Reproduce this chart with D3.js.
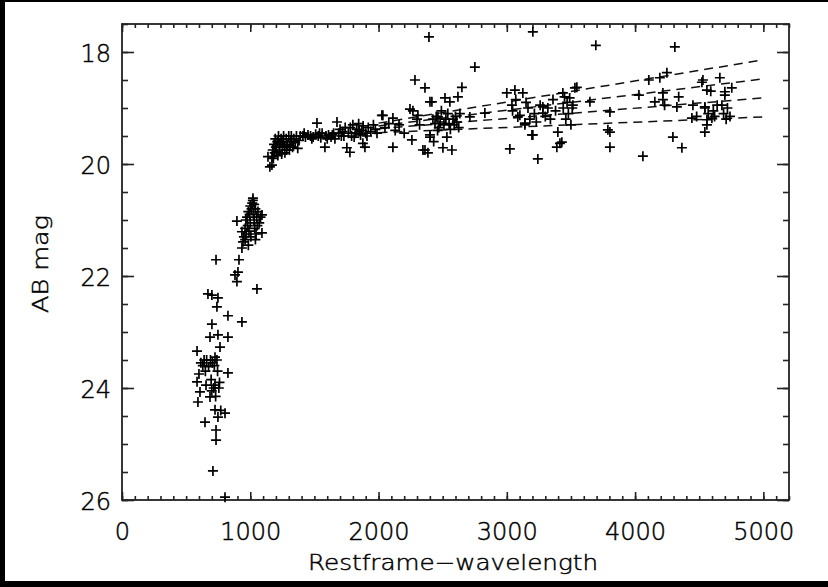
<!DOCTYPE html>
<html>
<head>
<meta charset="utf-8">
<script src="https://cdn.jsdelivr.net/npm/d3@7"></script>
<style>
	html, body { margin: 0; padding: 0; background: #000; }
	svg { display: block; }
	text { font-family: "DejaVu Sans", sans-serif; font-weight: 200; fill: #000; stroke: #000; stroke-width: 0.45; }
</style>
</head>
<body>
<script>

// wavelength (A), AB mag
var farUV = [
	[585,23.34],[585,23.89],[592,24.25],[600,23.75],[608,24.07],[615,23.55],[630,23.6],[640,23.5],
	[647,24.61],[655,23.95],[660,23.5],[670,22.32],[675,23.62],[686,23.09],[686,24.16],[690,23.5],
	[695,23.85],[701,22.34],[701,22.86],[705,23.55],[709,25.48],[715,24.0],[720,23.6],[725,23.45],
	[725,23.95],[725,24.39],[730,24.15],[733,24.75],[733,24.93],[740,22.55],[740,23.5],[745,23.7],
	[748,22.39],[748,23.05],[748,24.52],[755,24.0],[764,23.27],[770,24.4],[803,24.45],[803,25.95],
	[826,22.71],[826,23.09],[826,23.73],[733,21.71],[650,23.7],[700,24.05],[760,23.9]
];

var breakPts = [
	[881,21.98],[896,21.02],[896,22.1],[904,21.93],[912,21.71],[935,21.5],[935,21.21],[943,21.39],
	[935,22.82],[1052,22.23],[950,21.3],[960,21.15],[965,21.0],[970,21.25],[975,20.95],[980,21.1],
	[985,20.85],[990,21.2],[995,20.9],[1000,21.05],[1000,20.75],[1005,21.3],[1010,20.8],[1015,20.7],
	[1020,20.65],[1021,20.61],[1025,20.9],[1030,21.0],[1030,20.72],[1035,21.15],[1040,20.8],[1045,21.25],
	[1050,20.95],[1055,21.1],[1060,20.85],[1070,21.05],[1080,20.95],[1091,20.91],[1091,21.23],[1040,21.35],
	[960,21.35],[985,21.45]
];

var plateau = [
	[1138,19.87],[1153,20.05],[1169,20.02],[1169,19.87],[1175,19.75],[1185,19.65],[1190,19.8],[1195,19.55],
	[1200,19.7],[1210,19.6],[1215,19.85],[1220,19.5],[1225,19.65],[1230,19.75],[1240,19.55],[1250,19.7],
	[1255,19.6],[1260,19.5],[1270,19.8],[1280,19.55],[1290,19.65],[1300,19.5],[1305,19.75],[1315,19.6],
	[1320,19.5],[1330,19.7],[1340,19.55],[1350,19.62],[1360,19.5],[1370,19.72],[1380,19.58],[1390,19.5],
	[1180,19.9],[1205,19.78],[1235,19.62],[1245,19.82],[1265,19.68],[1285,19.75],[1310,19.68],[1335,19.6],
	[1410,19.5],[1430,19.52],[1450,19.48],[1470,19.5],[1490,19.52],[1510,19.47],[1520,19.27],[1530,19.5],
	[1550,19.53],[1560,19.45],[1582,19.7],[1590,19.5],[1610,19.48],[1630,19.52],[1650,19.45],[1660,19.55],
	[1676,19.25],[1690,19.45],[1700,19.38],[1710,19.5],[1720,19.42],[1740,19.35],[1753,19.71],[1765,19.45],
	[1777,19.79],[1780,19.35],[1790,19.5],[1800,19.3],[1820,19.45],[1830,19.38],[1845,19.28],[1860,19.48],
	[1870,19.4],[1878,19.63],[1880,19.32],[1894,19.7],[1900,19.45],[1920,19.35],[1940,19.42],[1960,19.3],
	[1975,19.38],[1988,19.45],[1420,19.45],[1480,19.55],[1540,19.45],[1600,19.55],[1640,19.48],[1730,19.5],
	[1810,19.52],[1850,19.42],[1910,19.5]
];

var midUV = [
	[2026,19.13],[2034,19.13],[2050,19.35],[2080,19.28],[2112,19.18],[2112,19.7],[2130,19.4],[2160,19.3],
	[2200,19.45],[2245,19.02],[2260,19.57],[2268,19.05],[2284,18.5],[2300,19.2],[2307,19.13],[2320,19.3],
	[2346,19.75],[2362,18.64],[2362,19.75],[2385,19.8],[2393,17.73],[2401,18.89],[2401,19.48],[2401,19.52],
	[2416,18.89],[2424,19.2],[2440,19.28],[2450,19.15],[2463,19.16],[2470,19.35],[2480,19.25],[2490,19.05],
	[2502,19.71],[2510,19.3],[2518,18.82],[2525,19.2],[2533,19.52],[2540,19.1],[2550,19.28],[2556,18.89],
	[2560,19.38],[2572,19.75],[2580,19.2],[2590,19.3],[2600,19.15],[2610,19.25],[2619,18.8],[2625,19.35],
	[2634,19.1],[2650,18.63],[2712,19.16],[2751,18.27],[2829,19.09],[2460,19.4],[2430,19.6]
];

var nearUV = [
	[3000,18.73],[3024,19.73],[3040,18.95],[3045,19.05],[3063,18.68],[3070,18.85],[3086,19.16],[3102,19.13],
	[3125,18.73],[3141,19.27],[3141,19.3],[3150,18.9],[3165,19.0],[3180,19.2],[3196,19.48],[3203,17.64],
	[3203,19.48],[3215,19.1],[3230,19.25],[3242,19.91],[3260,18.95],[3281,18.98],[3281,19.09],[3300,19.15],
	[3320,19.0],[3340,19.2],[3360,18.85],[3380,19.05],[3390,19.7],[3398,19.43],[3414,19.63],[3429,19.61],
	[3437,18.73],[3440,19.0],[3450,18.8],[3460,19.2],[3470,18.9],[3480,19.1],[3490,18.82],[3500,19.3],
	[3510,19.0],[3515,18.95],[3531,18.64],[3546,18.63]
];

var optical = [
	[3648,18.89],[3694,17.88],[3788,19.39],[3804,19.07],[3804,19.7],[3804,19.43],[4030,18.77],[4061,19.86],
	[4107,18.5],[4154,18.89],[4193,18.46],[4217,18.73],[4217,18.85],[4230,18.95],[4248,18.37],[4295,19.52],
	[4310,17.91],[4326,18.98],[4340,18.8],[4365,19.71],[4443,19.18],[4451,18.95],[4480,19.15],[4521,18.54],
	[4529,18.5],[4544,18.98],[4544,19.0],[4544,19.43],[4560,18.68],[4560,19.21],[4560,19.3],[4570,19.1],
	[4590,18.7],[4599,19.18],[4610,19.05],[4620,19.15],[4640,18.95],[4661,18.46],[4677,18.95],[4690,19.1],
	[4700,18.71],[4700,18.77],[4710,19.2],[4720,19.0],[4754,18.64],[4740,19.15]
];

// dashed fits: wavelength range and mag at each end
var fitX = [2000, 5000];
var fitMags = [[19.27,18.14],[19.32,18.48],[19.37,18.82],[19.44,19.16]];

var xTicks = [0, 1000, 2000, 3000, 4000, 5000];
var yTicks = [18, 20, 22, 24, 26];

function drawplot() {
	var W = 828, H = 587;
	var left = 122, right = 789, top = 24, bottom = 500;

	var svg = d3.select("body").append("svg")
		.attr("width", W)
		.attr("height", H);

	// white page, black edge on the left/top/bottom like the screenshot
	svg.append("rect")
		.attr("x", 5).attr("y", 2)
		.attr("width", W - 5).attr("height", H - 8)
		.attr("fill", "#fff");

	var x = d3.scaleLinear().domain([0, 5200]).range([left, right]);
	var y = d3.scaleLinear().domain([17.5, 26]).range([top, bottom]);

	var ax = svg.append("g")
		.attr("stroke-width", 1.6);

	// minor ticks
	ax.append("g").attr("transform", "translate(0," + bottom + ")")
		.call(d3.axisBottom(x).tickValues(d3.range(0, 5201, 100)).tickSize(-4).tickFormat(""));
	ax.append("g").attr("transform", "translate(0," + top + ")")
		.call(d3.axisTop(x).tickValues(d3.range(0, 5201, 100)).tickSize(-4).tickFormat(""));
	ax.append("g").attr("transform", "translate(" + left + ",0)")
		.call(d3.axisLeft(y).tickValues(d3.range(17.5, 26.01, 0.5)).tickSize(-6).tickFormat(""));
	ax.append("g").attr("transform", "translate(" + right + ",0)")
		.call(d3.axisRight(y).tickValues(d3.range(17.5, 26.01, 0.5)).tickSize(-6).tickFormat(""));

	// major ticks + labels
	var xb = ax.append("g").attr("transform", "translate(0," + bottom + ")")
		.call(d3.axisBottom(x).tickValues(xTicks).tickSize(-8).tickFormat(d3.format("d")));
	xb.selectAll("text")
		.attr("y", 40).attr("dy", null)
		.attr("font-size", 24)
		.attr("font-family", "DejaVu Sans");
	ax.append("g").attr("transform", "translate(0," + top + ")")
		.call(d3.axisTop(x).tickValues(xTicks).tickSize(-8).tickFormat(""));
	var yl = ax.append("g").attr("transform", "translate(" + left + ",0)")
		.call(d3.axisLeft(y).tickValues(yTicks).tickSize(-12).tickFormat(d3.format("d")));
	yl.selectAll("text")
		.attr("x", -11).attr("y", 9).attr("dy", null)
		.attr("font-size", 24)
		.attr("font-family", "DejaVu Sans");
	ax.append("g").attr("transform", "translate(" + right + ",0)")
		.call(d3.axisRight(y).tickValues(yTicks).tickSize(-12).tickFormat(""));

	ax.selectAll(".domain").remove();
	ax.selectAll("line").attr("stroke", "#222");
	ax.selectAll("text").attr("fill", "#000").attr("stroke", "#000").attr("stroke-width", 0.45);

	svg.append("rect")
		.attr("x", left).attr("y", top)
		.attr("width", right - left).attr("height", bottom - top)
		.attr("fill", "none")
		.attr("stroke", "#222")
		.attr("stroke-width", 1.8);

	// fits
	var line = d3.line()
		.x(function(d) { return x(d[0]); })
		.y(function(d) { return y(d[1]); });
	svg.append("g")
		.selectAll("path")
		.data(fitMags)
		.enter().append("path")
			.attr("d", function(m) { return line([[fitX[0], m[0]], [fitX[1], m[1]]]); })
			.attr("fill", "none")
			.attr("stroke", "#111")
			.attr("stroke-width", 1.5)
			.attr("stroke-dasharray", "9,6");

	// data points as plus signs
	var pts = farUV.concat(breakPts, plateau, midUV, nearUV, optical);
	svg.append("g")
		.selectAll("path")
		.data(pts)
		.enter().append("path")
			.attr("transform", function(d) { return "translate(" + x(d[0]) + "," + y(d[1]) + ")"; })
			.attr("d", "M-5,0H5M0,-5V5")
			.attr("stroke", "#000")
			.attr("stroke-width", 1.7)
			.attr("fill", "none");

	svg.append("text")
		.attr("x", 453).attr("y", 570)
		.attr("text-anchor", "middle")
		.attr("font-size", 21)
		.attr("textLength", 290)
		.attr("lengthAdjust", "spacingAndGlyphs")
		.text("Restframe\u2212wavelength");

	svg.append("text")
		.attr("transform", "translate(48,264) rotate(-90)")
		.attr("text-anchor", "middle")
		.attr("font-size", 21)
		.attr("textLength", 98)
		.attr("lengthAdjust", "spacingAndGlyphs")
		.text("AB mag");
}

window.onload = function(e) {
	drawplot();
}
</script>
</body>
</html>
